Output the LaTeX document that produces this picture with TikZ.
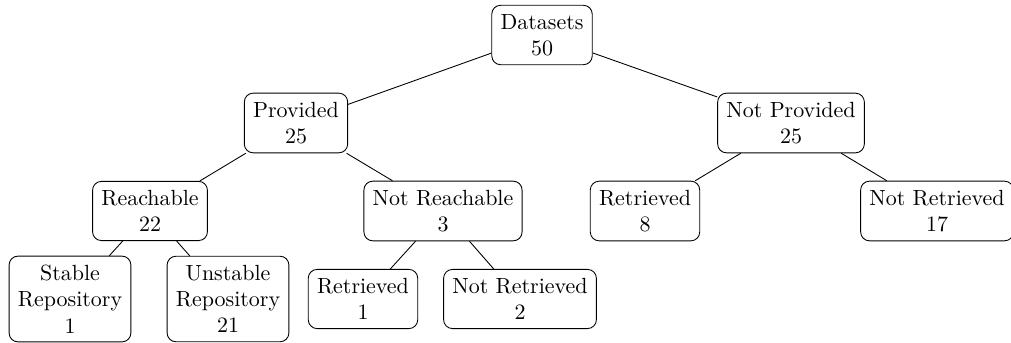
\documentclass[tikz,border=0pt]{standalone}
\usetikzlibrary{positioning}

\tikzset{box/.style={draw, rounded corners=4pt, align=center, inner sep=4pt}}

\begin{document}
\begin{tikzpicture}[x=0.016cm,y=-0.016cm]

% Marco de la figura
\useasboundingbox (0,0) rectangle (1011,343);

% Raiz
\node[box] (datasets) at (542,35) {Datasets\\50};

% Primer nivel
\node[box] (prov) at (296,123) {Provided\\25};
\node[box] (notprov) at (791,123) {Not Provided\\25};

% Segundo nivel
\node[box] (reach) at (150,211) {Reachable\\22};
\node[box] (notreach) at (443,211) {Not Reachable\\3};
\node[box] (retr) at (645,211) {Retrieved\\8};
\node[box] (notretr) at (937,211) {Not Retrieved\\17};

% Tercer nivel
\node[box] (stable) at (70,299) {Stable\\Repository\\1};
\node[box] (unstable) at (228,299) {Unstable\\Repository\\21};
\node[box] (retrA) at (363,299) {Retrieved\\1};
\node[box] (notretrA) at (520,299) {Not Retrieved\\2};

% Conexiones
\draw (datasets) -- (prov);
\draw (datasets) -- (notprov);
\draw (prov) -- (reach);
\draw (prov) -- (notreach);
\draw (notprov) -- (retr);
\draw (notprov) -- (notretr);
\draw (reach) -- (stable);
\draw (reach) -- (unstable);
\draw (notreach) -- (retrA);
\draw (notreach) -- (notretrA);

\end{tikzpicture}
\end{document}
